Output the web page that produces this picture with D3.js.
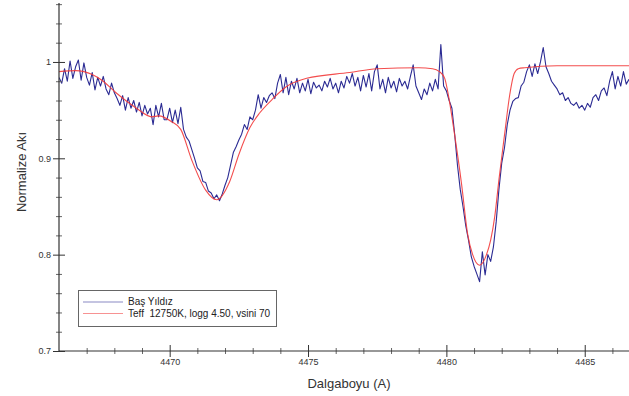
<!DOCTYPE html>
<html><head><meta charset="utf-8">
<script src="https://cdn.jsdelivr.net/npm/d3@7"></script>
<style>body{margin:0;background:#fff} text{font-family:"Liberation Sans",Arial,sans-serif}</style>
</head><body><svg id="c" width="629" height="396"></svg>
<script>
// Observed spectrum sampled every 0.1 Å starting at 4466.0 Å
const waveStart = 4466.0, waveStep = 0.1;
const observedFlux = [
0.984,0.978,0.993,0.980,1.001,0.983,0.995,1.002,0.981,0.999,
0.984,0.976,0.989,0.971,0.984,0.975,0.985,0.972,0.966,0.978,
0.968,0.962,0.955,0.965,0.950,0.963,0.952,0.960,0.948,0.958,
0.944,0.955,0.946,0.952,0.935,0.955,0.943,0.957,0.940,0.940,
0.952,0.937,0.950,0.936,0.953,0.930,0.922,0.918,0.909,0.900,
0.890,0.887,0.876,0.875,0.866,0.864,0.858,0.862,0.856,0.863,
0.872,0.880,0.893,0.906,0.912,0.919,0.925,0.935,0.930,0.943,
0.940,0.950,0.966,0.952,0.963,0.958,0.965,0.968,0.962,0.978,
0.987,0.968,0.984,0.966,0.980,0.972,0.983,0.968,0.978,0.970,
0.982,0.967,0.979,0.973,0.976,0.970,0.980,0.974,0.983,0.972,
0.978,0.968,0.980,0.973,0.985,0.978,0.988,0.975,0.984,0.970,
0.986,0.974,0.988,0.970,0.990,0.997,0.972,0.982,0.968,0.984,
0.973,0.980,0.969,0.983,0.975,0.980,0.972,0.985,0.997,0.975,
0.968,0.961,0.972,0.966,0.978,0.970,0.982,0.972,1.018,0.975,
0.970,0.960,0.952,0.925,0.893,0.868,0.850,0.830,0.815,0.798,
0.788,0.780,0.772,0.803,0.779,0.800,0.793,0.808,0.834,0.868,
0.895,0.911,0.935,0.950,0.959,0.962,0.963,0.975,0.979,0.990,
0.997,0.985,0.998,0.988,1.000,1.015,0.995,0.988,0.980,0.976,
0.972,0.966,0.968,0.960,0.963,0.957,0.955,0.958,0.952,0.955,
0.950,0.957,0.953,0.963,0.966,0.960,0.970,0.973,0.965,0.980,
0.990,0.972,0.985,0.975,0.990,0.977,0.982
];
// Synthetic model spectrum (read at key wavelengths)
const modelWave = [4466.0,4466.6,4467.2,4467.55,4468.06,4468.8,4469.35,4469.6,4470.07,4470.4,4470.8,4471.3,4471.7,4472.17,4472.5,4472.9,4473.25,4473.7,4474.2,4474.95,4476.5,4477.5,4479.0,4479.5,4479.75,4479.94,4480.05,4480.3,4480.55,4480.77,4480.95,4481.2,4481.45,4481.6,4481.75,4481.9,4482.1,4482.29,4482.45,4482.6,4482.83,4484.0,4486.6];
const modelFlux = [0.990,0.991,0.987,0.981,0.968,0.952,0.943,0.944,0.938,0.930,0.898,0.867,0.857,0.876,0.904,0.932,0.947,0.961,0.974,0.983,0.989,0.993,0.994,0.993,0.990,0.983,0.969,0.924,0.873,0.821,0.800,0.789,0.800,0.815,0.840,0.878,0.924,0.966,0.988,0.993,0.994,0.996,0.996];
const xMajorTicks = [4470,4475,4480,4485];
const xMinorTicks = [4467,4468,4469,4471,4472,4473,4474,4476,4477,4478,4479,4481,4482,4483,4484,4486];
const yMajorTicks = [0.7,0.8,0.9,1];
const yMinorTicks = [0.72,0.74,0.76,0.78,0.82,0.84,0.86,0.88,0.92,0.94,0.96,0.98,1.02,1.04,1.06];
const seriesNames = ["Baş Yıldız","Teff  12750K, logg 4.50, vsini 70"];
const seriesColors = ["#2b2b93","#f23a3a"];

const svg = d3.select("#c");
const L = 59, R = 629, T = 3, B = 351;
const x = d3.scaleLinear().domain([4466, 4486.6]).range([L, R]);
const y = d3.scaleLinear().domain([0.7, 1.0612]).range([B, T]);

const obs = observedFlux.map((v,i)=>({w: waveStart + i*waveStep, v}));
const mod = modelWave.map((w,i)=>({w, v: modelFlux[i]}));

svg.append("defs").append("clipPath").attr("id","clip")
  .append("rect").attr("x",L).attr("y",T).attr("width",R-L).attr("height",B-T);

const g = svg.append("g").attr("clip-path","url(#clip)");
g.append("path").datum(obs)
  .attr("d", d3.line().x(d=>x(d.w)).y(d=>y(d.v)))
  .attr("fill","none").attr("stroke",seriesColors[0]).attr("stroke-width",1.1).attr("stroke-linejoin","round");
g.append("path").datum(mod)
  .attr("d", d3.line().x(d=>x(d.w)).y(d=>y(d.v)).curve(d3.curveMonotoneX))
  .attr("fill","none").attr("stroke",seriesColors[1]).attr("stroke-width",1.1).attr("opacity",0.9);

const axCol = "#333";
// bottom axis
const xa = svg.append("g").attr("transform",`translate(0,${B})`);
xa.call(d3.axisBottom(x).tickValues(xMinorTicks).tickSize(3).tickFormat(""));
xa.selectAll(".tick line").attr("y1",-3).attr("stroke","#666");
const xa2 = svg.append("g").attr("transform",`translate(0,${B})`);
xa2.call(d3.axisBottom(x).tickValues(xMajorTicks).tickSize(6).tickFormat(d3.format("d")));
xa2.selectAll(".tick line").attr("y1",-6).attr("stroke",axCol);
xa2.selectAll(".tick text").attr("font-size",9).attr("fill",axCol).attr("dy","0.6em").attr("y",9)
   .style("font-family","'Liberation Sans',Arial,sans-serif");
xa.select(".domain").remove(); xa2.select(".domain").remove();
svg.append("line").attr("x1",L).attr("x2",R).attr("y1",B).attr("y2",B).attr("stroke",axCol).attr("stroke-width",1.2);

// left axis
const ya = svg.append("g").attr("transform",`translate(${L},0)`);
ya.call(d3.axisLeft(y).tickValues(yMinorTicks).tickSize(3).tickFormat(""));
ya.selectAll(".tick line").attr("x1",3).attr("stroke","#666");
const ya2 = svg.append("g").attr("transform",`translate(${L},0)`);
ya2.call(d3.axisLeft(y).tickValues(yMajorTicks).tickSize(6).tickFormat(d=>String(d)));
ya2.selectAll(".tick line").attr("x1",6).attr("stroke",axCol);
ya2.selectAll(".tick text").attr("font-size",9).attr("fill",axCol).attr("x",-8)
   .style("font-family","'Liberation Sans',Arial,sans-serif");
ya.select(".domain").remove(); ya2.select(".domain").remove();
svg.append("line").attr("x1",L).attr("x2",L).attr("y1",T).attr("y2",B).attr("stroke",axCol).attr("stroke-width",1.2);

// axis titles
svg.append("text").attr("x",(L+R)/2+5).attr("y",388).attr("text-anchor","middle")
  .attr("font-size",13).attr("fill","#333").text("Dalgaboyu (A)");
svg.append("text").attr("transform","translate(26,172) rotate(-90)").attr("text-anchor","middle")
  .attr("font-size",13).attr("fill","#333").text("Normalize Akı");

// legend
const lg = svg.append("g");
lg.append("rect").attr("x",78.5).attr("y",290.5).attr("width",198).attr("height",36)
  .attr("fill","#fff").attr("stroke","#666").attr("stroke-width",1);
seriesNames.forEach((name,i)=>{
  const yy = 302 + i*11.5;
  lg.append("line").attr("x1",83).attr("x2",123).attr("y1",yy).attr("y2",yy)
    .attr("stroke",seriesColors[i]).attr("stroke-width",1).attr("opacity",0.55);
  lg.append("text").attr("x",128).attr("y",yy+3.3).attr("font-size",10).attr("fill","#222")
    .style("white-space","pre").text(name);
});
</script></body></html>
